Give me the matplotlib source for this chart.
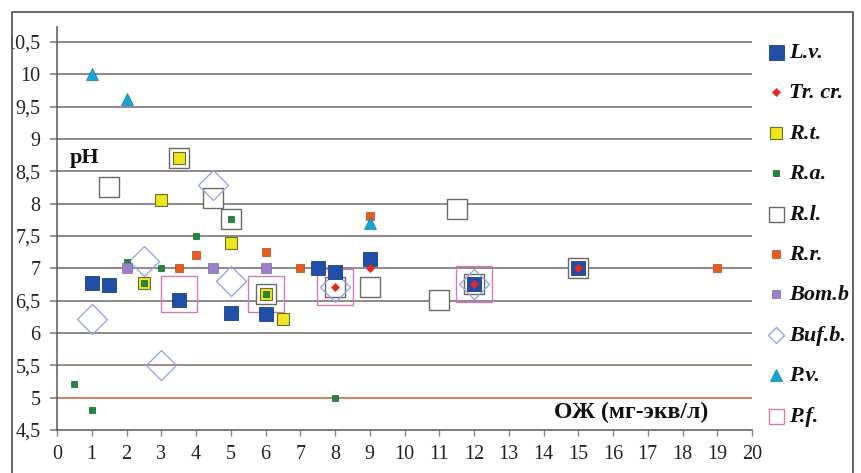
import matplotlib
matplotlib.use("Agg")
import matplotlib.pyplot as plt
from matplotlib.lines import Line2D
from matplotlib.patches import Rectangle

plt.rcParams["font.family"] = ["Liberation Serif", "DejaVu Serif"]

# ---- data ----
lv_x = [1, 1.5, 3.5, 5, 6, 7.5, 8, 9, 12, 15]
lv_y = [6.77, 6.74, 6.51, 6.31, 6.3, 7.0, 6.95, 7.14, 6.75, 7.0]
tr_x = [8, 9, 12, 15]
tr_y = [6.71, 7.0, 6.75, 7.0]
rt_x = [2.5, 3, 3.5, 5, 6, 6.5]
rt_y = [6.77, 8.05, 8.7, 7.39, 6.61, 6.22]
ra_x = [0.5, 1, 2, 2.5, 3, 4, 5, 6, 8]
ra_y = [5.21, 4.81, 7.09, 6.77, 7.0, 7.5, 7.76, 6.61, 5.0]
rl_x = [1.5, 3.5, 4.5, 5, 6, 8, 9, 11, 11.5, 12, 15]
rl_y = [8.26, 8.7, 8.08, 7.76, 6.61, 6.71, 6.71, 6.51, 7.91, 6.75, 7.0]
rr_x = [3.5, 4, 6, 7, 9, 19]
rr_y = [7.0, 7.2, 7.25, 7.0, 7.81, 7.0]
bom_x = [2, 4.5, 6]
bom_y = [7.0, 7.0, 7.0]
buf_x = [1, 2.5, 3, 4.5, 5, 8, 12]
buf_y = [6.21, 7.12, 5.5, 8.28, 6.81, 6.71, 6.75]
pv_x = [1, 2, 9]
pv_y = [10.0, 9.62, 7.7]
pf_x = [3.5, 6, 8, 12]
pf_y = [6.6, 6.6, 6.71, 6.75]

series_names = ["L.v.", "Tr. cr.", "R.t.", "R.a.", "R.l.", "R.r.", "Bom.b", "Buf.b.", "P.v.", "P.f."]
x_ticks = list(range(0, 21))
y_ticks = [4.5, 5, 5.5, 6, 6.5, 7, 7.5, 8, 8.5, 9, 9.5, 10, 10.5]
y_tick_labels = ["4,5", "5", "5,5", "6", "6,5", "7", "7,5", "8", "8,5", "9", "9,5", "10", "10,5"]

W, H = 861, 473
fig = plt.figure(figsize=(W / 100, H / 100), dpi=100)
fig.patch.set_facecolor("white")
ax = fig.add_axes([57 / W, 43 / H, (752 - 57) / W, (430 - 27) / H])

grid_c = "#858080"

ax.set_xlim(0, 20)
ax.set_ylim(4.5, 10.73)

for v in y_ticks[1:]:
    c = grid_c
    if v == 5:
        c = "#c87a55"
    elif v == 5.5:
        c = "#9a8078"
    ax.axhline(v, color=c, lw=1.3, zorder=0.5)

styles = {
    "L.v.": dict(marker="s", ms=10, mfc="#1f4fa6", mec="#1a3f8a", mew=0.6),
    "Tr. cr.": dict(marker="D", ms=4.4, mfc="#e8261e", mec="#e8261e", mew=0.5),
    "R.t.": dict(marker="s", ms=8.4, mfc="#efe61a", mec="#6b6a3a", mew=0.8),
    "R.a.": dict(marker="s", ms=5, mfc="#1e8a3c", mec="#1a5a2a", mew=0.5),
    "R.l.": dict(marker="s", ms=14.2, mfc="white", mec="#6e6660", mew=1.0),
    "R.r.": dict(marker="s", ms=6.3, mfc="#ea5b1c", mec="#b04a1c", mew=0.5),
    "Bom.b": dict(marker="s", ms=6.5, mfc="#9c80cc", mec="#7a6aa0", mew=0.5),
    "Buf.b.": dict(marker="D", ms=15.5, mfc="none", mec="#9aa4de", mew=1.0),
    "P.v.": dict(marker="^", ms=8.6, mfc="#16a6d4", mec="#0f7aa0", mew=0.5),
    "P.f.": dict(marker="s", ms=25.5, mfc="none", mec="#d27ab8", mew=1.0),
}
data = {
    "L.v.": (lv_x, lv_y), "Tr. cr.": (tr_x, tr_y), "R.t.": (rt_x, rt_y),
    "R.a.": (ra_x, ra_y), "R.l.": (rl_x, rl_y), "R.r.": (rr_x, rr_y),
    "Bom.b": (bom_x, bom_y), "Buf.b.": (buf_x, buf_y), "P.v.": (pv_x, pv_y),
    "P.f.": (pf_x, pf_y),
}
zorders = {"P.f.": 2, "R.l.": 3, "Buf.b.": 4, "L.v.": 5, "R.t.": 6, "R.a.": 7,
           "R.r.": 7, "Bom.b": 8, "P.v.": 8, "Tr. cr.": 9}
for name in series_names:
    xs, ys = data[name]
    ax.plot(xs, ys, linestyle="none", zorder=zorders[name], clip_on=False, **styles[name])

for s in ["top", "right"]:
    ax.spines[s].set_visible(False)
for s in ["left", "bottom"]:
    ax.spines[s].set_color("#6b6363")
    ax.spines[s].set_linewidth(1.2)

ax.set_xticks(x_ticks)
ax.set_xticklabels([str(v) for v in x_ticks], fontsize=14.5, color="#222222")
ax.set_yticks(y_ticks)
ax.set_yticklabels(y_tick_labels, fontsize=14.5, color="#222222")
ax.tick_params(axis="y", length=5, width=1.2, color=grid_c, pad=7)
ax.tick_params(axis="x", length=4.5, width=1.0, color=grid_c, pad=6)

ax.text(0.37, 8.7, "pH", fontweight="bold", fontsize=16,
        ha="left", va="center", color="#111111")
ax.text(14.29, 4.77, "ОЖ (мг-экв/л)", fontweight="bold", fontsize=17,
        ha="left", va="center", color="#111111")

# legend (manual)
leg_sizes = {"L.v.": 10.8, "Tr. cr.": 3.8, "R.t.": 9.2, "R.a.": 5, "R.l.": 10.8,
             "R.r.": 5.8, "Bom.b": 5.8, "Buf.b.": 8.2, "P.v.": 8, "P.f.": 10.8}
for i, name in enumerate(series_names):
    ypx = 52 + 40.4 * i
    st = dict(styles[name])
    st["ms"] = leg_sizes[name]
    if name == "Buf.b.":
        st["mfc"] = "white"
    fig.add_artist(Line2D([776 / W], [1 - ypx / H], transform=fig.transFigure,
                          linestyle="none", **st))
    fig.text(789 / W, 1 - (ypx + 1) / H, name, fontweight="bold",
             fontstyle="italic", fontsize=16, ha="left", va="center", color="#111111")

# outer frame with clipping masks
fig.add_artist(Rectangle((0, 0), 11 / W, 1, transform=fig.transFigure,
                         facecolor="white", edgecolor="none", zorder=20))
fig.add_artist(Rectangle((854 / W, 0), 1, 1, transform=fig.transFigure,
                         facecolor="white", edgecolor="none", zorder=20))
fig.add_artist(Line2D([12 / W, 12 / W, 853 / W, 853 / W], [0, 1 - 12 / H, 1 - 12 / H, 0],
                      transform=fig.transFigure, color="#5a5a5a", lw=1.3, zorder=21))

fig.savefig("out.png", dpi=100, facecolor="white")
